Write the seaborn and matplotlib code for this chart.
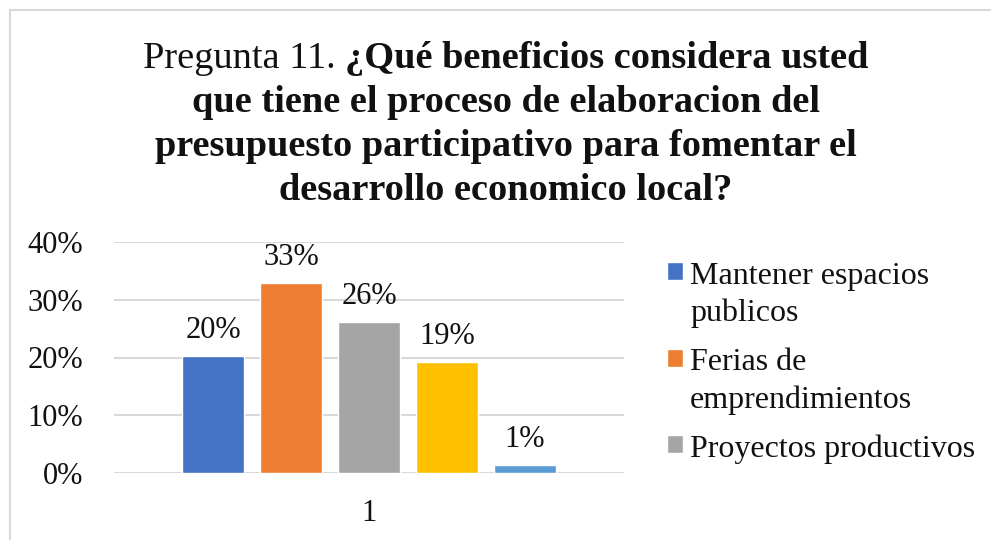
import matplotlib
matplotlib.use("Agg")
import matplotlib.pyplot as plt
from matplotlib.patches import Rectangle
import seaborn as sns
import pandas as pd

# data
series = ["Mantener espacios\npublicos", "Ferias de\nemprendimientos",
          "Proyectos productivos", "Serie 4", "Serie 5"]
values = [0.203, 0.329, 0.261, 0.192, 0.014]
group = ["1"] * 5
colors = ["#4472C4", "#ED7D31", "#A5A5A5", "#FFC000", "#5B9BD5"]
n_legend = 3  # only the first three entries are visible in the original legend

title_plain = "Pregunta 11. "
title_bold_1 = "¿Qué beneficios considera usted"
title_rest = ["que tiene el proceso de elaboracion del",
              "presupuesto participativo para fomentar el",
              "desarrollo economico local?"]

df = pd.DataFrame({"grupo": group, "valor": values, "serie": series})

sns.set_theme(style="white")
plt.rcParams['font.family'] = ['Liberation Serif', 'DejaVu Serif']

W, H = 991, 540
fig = plt.figure(figsize=(W / 100, H / 100), dpi=100)
ax = fig.add_axes([114 / W, 1 - 473 / H, 510 / W, 231 / H])

sns.barplot(data=df, x="grupo", y="valor", hue="serie", palette=colors,
            width=0.765, gap=0.205, saturation=1, legend=False, ax=ax)

ax.set_ylim(0, 0.4)
ax.set_yticks([0, 0.1, 0.2, 0.3, 0.4])
ax.set_yticklabels(["0%", "10%", "20%", "30%", "40%"])
ax.set_xlabel("")
ax.set_ylabel("")
ax.tick_params(axis="y", length=0, pad=22, labelsize=22, labelcolor="#111111")
ax.tick_params(axis="x", length=0, pad=19, labelsize=22, labelcolor="#111111")
ax.yaxis.grid(True, color="#d9d9d9", lw=1.5)
ax.set_axisbelow(True)
for s in ax.spines.values():
    s.set_visible(False)

for cont, v in zip(ax.containers, values):
    ax.bar_label(cont, labels=[f"{v:.0%}"], padding=8, fontsize=22, color="#111111")

handles = [c.patches[0] for c in ax.containers[:n_legend]]
leg = ax.legend(handles, series[:n_legend], loc="upper left",
                bbox_to_anchor=(667 / W, 1 - 262 / H), bbox_transform=fig.transFigure,
                frameon=False, fontsize=23, borderpad=0, borderaxespad=0,
                handlelength=0.5, handleheight=0.5, handletextpad=0.22,
                labelspacing=0.63)
for t in leg.get_texts():
    t.set_linespacing(1.35)
    t.set_color("#111111")
for col in leg._legend_handle_box.get_children():
    for item in col.get_children():
        item.align = "top"

# title, first line mixed normal/bold
TS = 27.6
cx = 506 / W
r = fig.canvas.get_renderer()
y1 = 1 - 68 / H
t1 = fig.text(0, y1, title_plain, fontsize=TS, va="baseline", color="#111111")
t2 = fig.text(0, y1, title_bold_1, fontsize=TS, fontweight="bold", va="baseline", color="#111111")
w1 = t1.get_window_extent(r).width
w2 = t2.get_window_extent(r).width
x0 = cx - (w1 + w2) / 2 / W
t1.set_x(x0)
t2.set_x(x0 + w1 / W)
for i, line in enumerate(title_rest):
    fig.text(cx, 1 - (112 + 44 * i) / H, line, fontsize=TS, fontweight="bold",
             ha="center", va="baseline", color="#111111")

# chart area border
fig.patches.append(Rectangle((10 / W, -0.1), 2, 1 - 10 / H + 0.1, transform=fig.transFigure,
                             fill=False, edgecolor="#d9d9d9", lw=1.5))

fig.savefig("out.png", dpi=100)
